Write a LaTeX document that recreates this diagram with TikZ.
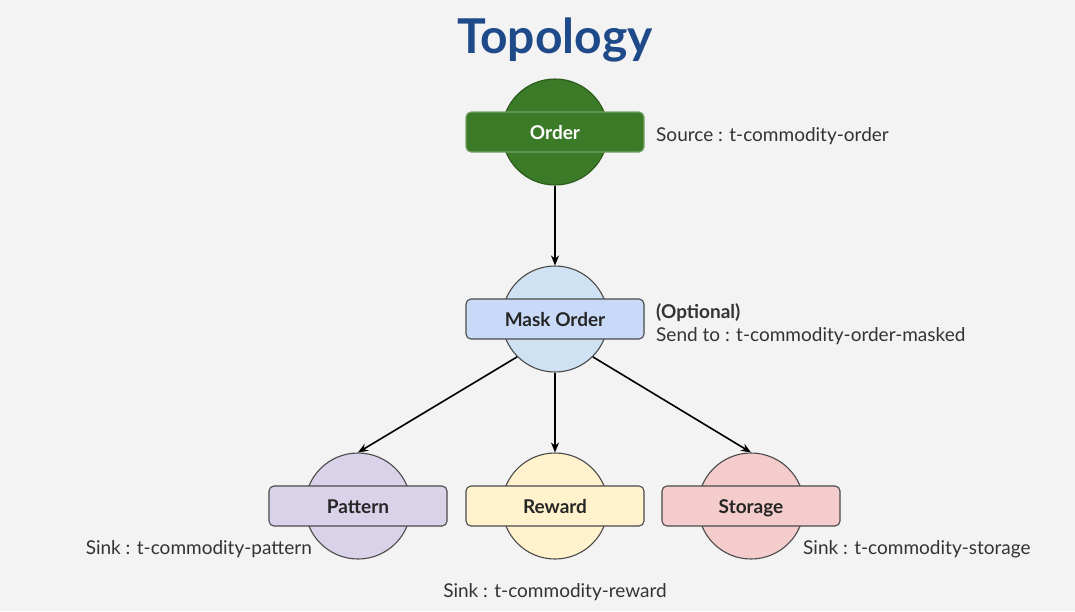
\documentclass[tikz,border=0pt]{standalone}
\usepackage{fontspec}
\setmainfont{Lato}
\usetikzlibrary{arrows.meta}

\definecolor{bgcol}{HTML}{F3F3F3}
\definecolor{titleblue}{HTML}{1F4A8A}
\definecolor{ordergreen}{HTML}{3B7A26}
\definecolor{orderedge}{HTML}{2B5A1A}
\definecolor{maskcirc}{HTML}{CFE2F3}
\definecolor{maskbox}{HTML}{C9DAF8}
\definecolor{patternfill}{HTML}{D9D2E9}
\definecolor{rewardfill}{HTML}{FFF2CC}
\definecolor{storagefill}{HTML}{F4CCCC}
\definecolor{edgegray}{HTML}{4A4A4A}
\definecolor{textgray}{HTML}{333333}

\begin{document}
\begin{tikzpicture}[x=1pt, y=-1pt, >={Stealth[length=10pt, width=8pt]}, line join=round,
    disc/.style={circle, draw=edgegray, line width=1.1pt, minimum size=106pt, inner sep=0pt},
    tag/.style={rectangle, rounded corners=5pt, draw=edgegray, line width=1.1pt,
      minimum width=178pt, minimum height=40pt, inner sep=0pt,
      text height=14pt, text depth=0pt,
      font=\fontsize{19}{22}\selectfont\bfseries, text=black!85},
    note/.style={font=\fontsize{19}{23}\selectfont, text=textgray, inner sep=0pt, align=left},
    flow/.style={->, line width=1.6pt, black}]

  % --- background and frame ---
  \fill[bgcol] (0,0) rectangle (1075,611);
  \useasboundingbox (0,0) rectangle (1075,611);

  % --- title ---
  \node[font=\fontsize{48}{52}\selectfont\bfseries, text=titleblue] (title) at (555,40) {Topology};

  % --- source ---
  \node[disc, fill=ordergreen, draw=orderedge] (order) at (555,132) {};
  \node[tag, fill=ordergreen, draw=ordergreen!70!white, text=white] (order box) at (555,132) {Order};
  \node[note, anchor=west] (order note) at (656,136) {Source : t-commodity-order};

  % --- optional masking step ---
  \node[disc, fill=maskcirc] (mask) at (555,319) {};
  \node[tag, fill=maskbox] (mask box) at (555,319) {Mask Order};
  \node[note, anchor=west] (mask note) at (656,324) {\textbf{(Optional)}\\Send to : t-commodity-order-masked};

  % --- sinks ---
  \node[disc, fill=patternfill] (pattern) at (358,506) {};
  \node[tag, fill=patternfill] (pattern box) at (358,506) {Pattern};
  \node[note, anchor=east] (pattern note) at (312,549) {Sink : t-commodity-pattern};

  \node[disc, fill=rewardfill] (reward) at (555,506) {};
  \node[tag, fill=rewardfill] (reward box) at (555,506) {Reward};
  \node[note] (reward note) at (555,592) {Sink : t-commodity-reward};

  \node[disc, fill=storagefill] (storage) at (751,506) {};
  \node[tag, fill=storagefill] (storage box) at (751,506) {Storage};
  \node[note, anchor=west] (storage note) at (803,549) {Sink : t-commodity-storage};

  % --- data flow ---
  \draw[flow] (order) -- (mask);
  \draw[flow] (mask.south west) -- (pattern.north);
  \draw[flow] (mask.south) -- (reward.north);
  \draw[flow] (mask.south east) -- (storage.north);
\end{tikzpicture}
\end{document}
